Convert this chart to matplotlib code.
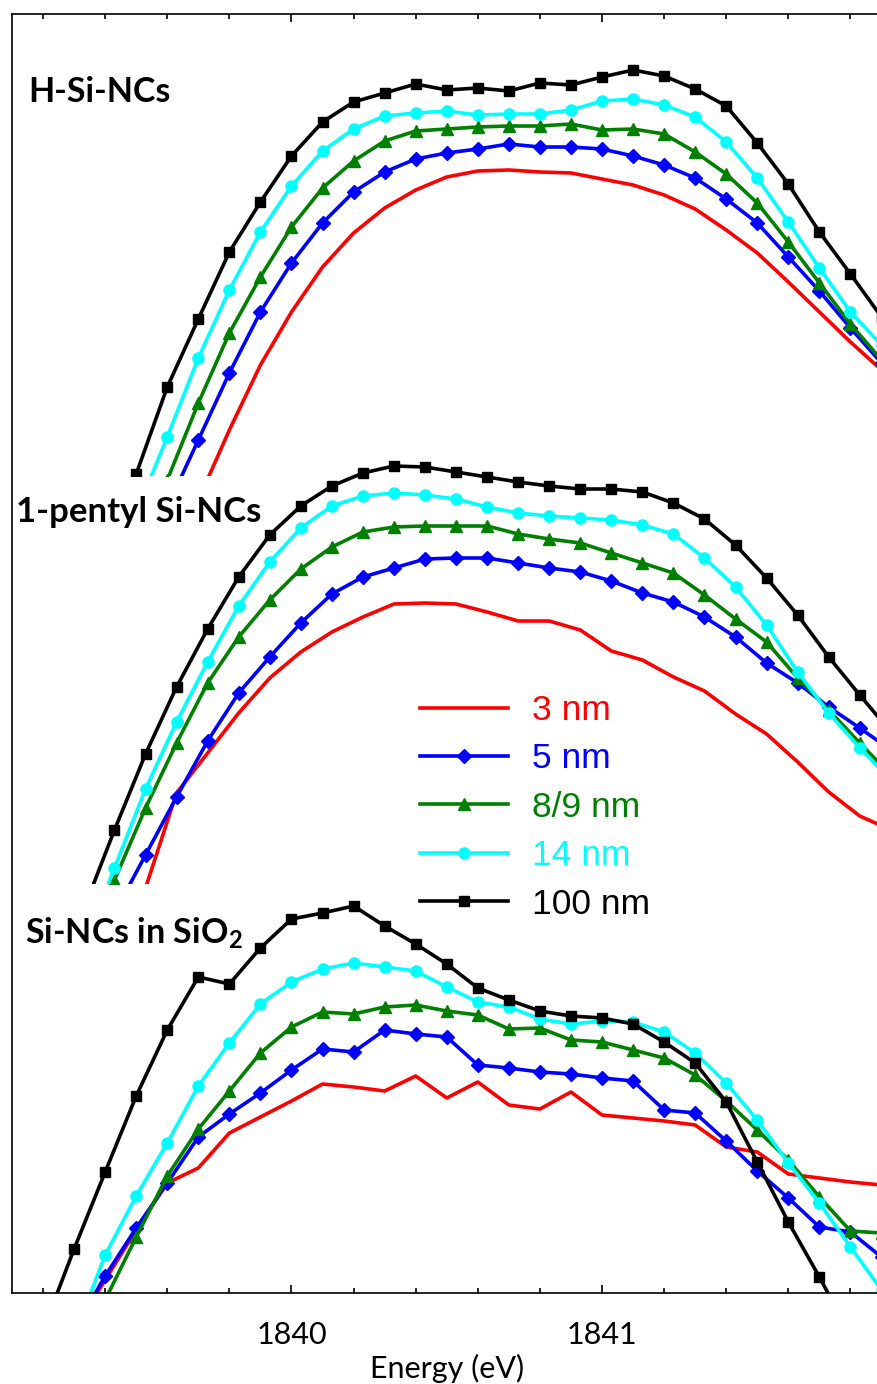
import numpy as np
import matplotlib
matplotlib.use('Agg')
import matplotlib.pyplot as plt
from matplotlib.patches import Rectangle

plt.rcParams['mathtext.fontset'] = 'custom'
plt.rcParams['mathtext.rm'] = 'Lato'
plt.rcParams['mathtext.bf'] = 'Lato:bold'

# energy grids (eV), 0.1 eV steps; every series ends at the last grid point
grid_h = np.round(np.arange(1839.5, 1841.95, 0.1), 2)
grid_pentyl = np.round(np.arange(1839.33, 1841.98, 0.1), 2)
grid_sio2 = np.round(np.arange(1839.2, 1841.95, 0.1), 2)

# H-Si-NCs (offset spectra, a.u.)
h_3 = [7.93, 8.63, 9.28, 9.81, 10.26, 10.60, 10.85, 11.03, 11.16, 11.22, 11.23, 11.21,
       11.20, 11.14, 11.08, 10.98, 10.84, 10.63, 10.40, 10.11, 9.81, 9.51, 9.23]
h_5 = [7.86, 8.53, 9.20, 9.81, 10.30, 10.70, 11.01, 11.21, 11.34, 11.40, 11.44, 11.49,
       11.46, 11.46, 11.44, 11.37, 11.28, 11.15, 10.94, 10.70, 10.36, 10.02, 9.65, 9.30]
h_8 = [8.13, 8.90, 9.60, 10.16, 10.66, 11.05, 11.32, 11.52, 11.62, 11.64, 11.66, 11.67,
       11.67, 11.69, 11.63, 11.64, 11.59, 11.41, 11.19, 10.90, 10.51, 10.10, 9.69, 9.33]
h_14 = [7.80, 8.56, 9.35, 10.03, 10.61, 11.07, 11.42, 11.64, 11.77, 11.80, 11.82, 11.78,
        11.79, 11.79, 11.83, 11.92, 11.94, 11.88, 11.76, 11.51, 11.15, 10.71, 10.25, 9.81, 9.48]
h_100 = [8.19, 9.06, 9.74, 10.41, 10.91, 11.37, 11.71, 11.91, 12.00, 12.09, 12.03, 12.05,
         12.02, 12.10, 12.08, 12.16, 12.23, 12.17, 12.04, 11.87, 11.50, 11.09, 10.61, 10.19, 9.76]

# 1-pentyl Si-NCs
p_3 = [3.53, 4.05, 5.00, 5.40, 5.80, 6.15, 6.41, 6.61, 6.76, 6.89, 6.90, 6.89, 6.81,
       6.72, 6.72, 6.63, 6.42, 6.33, 6.16, 6.02, 5.79, 5.59, 5.31, 5.01, 4.77, 4.63]
p_5 = [3.80, 4.38, 4.96, 5.52, 6.00, 6.36, 6.70, 6.99, 7.16, 7.25, 7.34, 7.35, 7.35,
       7.30, 7.25, 7.21, 7.12, 7.00, 6.91, 6.76, 6.56, 6.30, 6.10, 5.86, 5.65, 5.43]
p_8 = [3.33, 4.13, 4.85, 5.50, 6.10, 6.56, 6.93, 7.24, 7.46, 7.61, 7.66, 7.67, 7.67,
       7.67, 7.59, 7.54, 7.50, 7.40, 7.30, 7.20, 6.98, 6.74, 6.51, 6.15, 5.83, 5.50, 5.18]
p_14 = [3.46, 4.25, 5.04, 5.71, 6.31, 6.87, 7.31, 7.65, 7.87, 7.97, 8.00, 7.98, 7.94,
        7.86, 7.80, 7.77, 7.75, 7.73, 7.68, 7.59, 7.35, 7.06, 6.68, 6.21, 5.80, 5.45, 5.13]
p_100 = [3.83, 4.63, 5.39, 6.06, 6.64, 7.16, 7.58, 7.87, 8.07, 8.20, 8.27, 8.26, 8.21,
         8.16, 8.11, 8.07, 8.04, 8.04, 8.01, 7.90, 7.74, 7.48, 7.15, 6.78, 6.36, 5.98, 5.61]

# Si-NCs in SiO2
s_3 = [-0.37, 0.13, 0.63, 1.10, 1.25, 1.60, 1.76, 1.92, 2.09, 2.06, 2.02, 2.17, 1.95, 2.11,
       1.88, 1.84, 2.01, 1.78, 1.75, 1.72, 1.68, 1.46, 1.41, 1.19, 1.15, 1.11, 1.08]
s_5 = [-0.37, 0.17, 0.65, 1.10, 1.56, 1.79, 2.00, 2.23, 2.44, 2.41, 2.63, 2.59, 2.56, 2.28,
       2.25, 2.21, 2.19, 2.15, 2.12, 1.83, 1.80, 1.52, 1.22, 0.95, 0.66, 0.61, 0.36]
s_8 = [-0.07, 0.56, 1.17, 1.64, 2.02, 2.40, 2.66, 2.81, 2.79, 2.86, 2.88, 2.82, 2.78,
       2.64, 2.65, 2.53, 2.51, 2.43, 2.35, 2.18, 1.92, 1.63, 1.33, 0.96, 0.62, 0.60]
s_14 = [-0.44, 0.38, 0.97, 1.50, 2.07, 2.50, 2.89, 3.11, 3.24, 3.30, 3.26, 3.22, 3.06, 2.91,
        2.86, 2.74, 2.69, 2.72, 2.71, 2.61, 2.40, 2.10, 1.73, 1.30, 0.90, 0.46, 0.03]
s_100 = [-0.37, 0.44, 1.21, 1.97, 2.63, 3.16, 3.09, 3.45, 3.74, 3.80, 3.87, 3.67, 3.49, 3.29,
         3.05, 2.93, 2.82, 2.77, 2.75, 2.69, 2.51, 2.30, 1.91, 1.31, 0.71, 0.16, -0.42, -0.97]

labels = ['3 nm', '5 nm', '8/9 nm', '14 nm', '100 nm']
colors = ['#ff0000', '#0000ff', '#008000', '#00ffff', '#000000']
markers = ['None', 'D', '^', 'o', 's']
msizes = [0, 7, 8, 8, 7.5]

groups = [
    (grid_h, [h_3, h_5, h_8, h_14, h_100], 8.17),
    (grid_pentyl, [p_3, p_5, p_8, p_14, p_100], 4.09),
    (grid_sio2, [s_3, s_5, s_8, s_14, s_100], 0.0),
]

fig = plt.figure(figsize=(8.77, 13.84), dpi=100)
ax = fig.add_axes([12 / 877, 91 / 1384, 869.5 / 877, 1279 / 1384])

handles = []
for gi, (grid, series, lo) in enumerate(groups):
    clip = Rectangle((1838, lo), 5, 20, transform=ax.transData)
    for vals, lab, c, m, ms in zip(series, labels, colors, markers, msizes):
        ln, = ax.plot(grid[-len(vals):], vals, color=c, lw=2.6, marker=m, ms=ms,
                      mec=c, mfc=c, label=lab)
        ln.set_clip_path(clip)
        if gi == 0:
            handles.append(ln)

ax.set_xlim(1839.1, 1841.9)
ax.set_ylim(0, 12.79)
ax.set_xticks([1840, 1841])
ax.set_xticks(np.arange(1839.2, 1841.9, 0.2), minor=True)
ax.set_yticks([])
ax.tick_params(axis='x', which='both', direction='in', top=True, bottom=True,
               width=1.2, labelsize=22, pad=20)
ax.tick_params(axis='x', which='major', length=6)
ax.tick_params(axis='x', which='minor', length=3.8)
for lab in ax.get_xticklabels():
    lab.set_fontfamily('Lato')
for s in ax.spines.values():
    s.set_linewidth(1.2)
ax.set_xlabel('Energy (eV)', fontsize=22, fontfamily='Lato', labelpad=4)

leg = ax.legend(handles=handles, loc='upper left', bbox_to_anchor=(420 / 877, 1 - 694 / 1384),
                bbox_transform=fig.transFigure, frameon=False, labelcolor='linecolor',
                prop={'family': 'Liberation Sans', 'size': 25.5}, handlelength=2.49,
                handletextpad=0.68, labelspacing=0.435, borderpad=0, borderaxespad=0)

fig.text(28 / 877, 1 - 101.7 / 1384, 'H-Si-NCs', fontsize=24.5, fontweight='bold',
         fontfamily='Lato', va='baseline')
fig.text(16 / 877, 1 - 521.7 / 1384, '1-pentyl Si-NCs', fontsize=25, fontweight='bold',
         fontfamily='Lato', va='baseline')
fig.text(25 / 877, 1 - 943.3 / 1384, r'Si-NCs in SiO$_\mathbf{2}$', fontsize=24.5,
         fontweight='bold', fontfamily='Lato', va='baseline')

fig.savefig('out.png', dpi=100)
